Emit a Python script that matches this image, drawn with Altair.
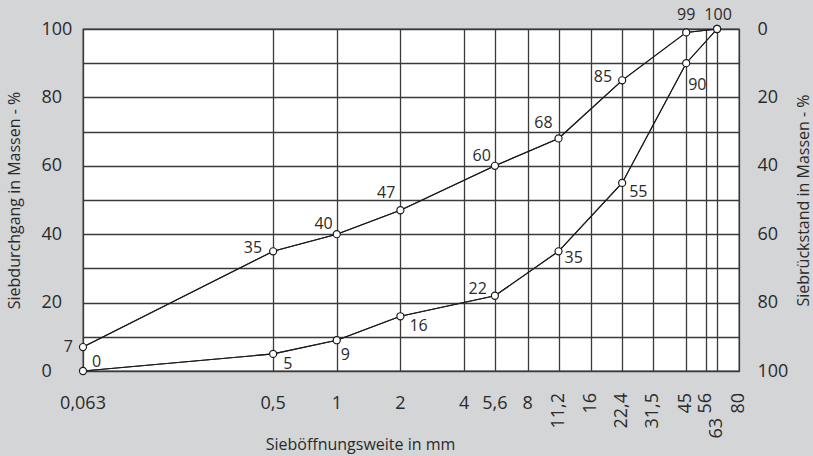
import altair as alt
import pandas as pd

# Sieve sizes (mm) that carry a point on the grading curves
sieves = [0.063, 0.5, 1, 2, 5.6, 11.2, 22.4, 45, 63]
# Passing percentages of the two limiting grading curves
upper = [7, 35, 40, 47, 60, 68, 85, 99, 100]
lower = [0, 5, 9, 16, 22, 35, 55, 90, 100]
series_names = ["oben", "unten"]

# Sieve series used for the vertical grid and the x labels
x_ticks = [0.063, 0.5, 1, 2, 4, 5.6, 8, 11.2, 16, 22.4, 31.5, 45, 56, 63, 80]
x_tick_labels = ["0,063", "0,5", "1", "2", "4", "5,6", "8", "11,2", "16",
                 "22,4", "31,5", "45", "56", "63", "80"]
y_ticks = list(range(0, 101, 10))

FONT = "Open Sans"
INK = "#2a2a2a"
GRID = "#3a3a3a"
BG = "#d4d5d7"

curves = pd.DataFrame({
    "sieb": sieves * 2,
    "wert": upper + lower,
    "linie": [series_names[0]] * len(sieves) + [series_names[1]] * len(sieves),
})
ticks = pd.DataFrame({"sieb": x_ticks, "text": x_tick_labels})

x_scale = alt.Scale(type="log", domain=[0.063, 80], nice=False)
y_scale = alt.Scale(domain=[0, 100], nice=False)

x_enc = alt.X("sieb:Q", scale=x_scale, axis=None)
y_enc = alt.Y("wert:Q", scale=y_scale, axis=None)
y_base = alt.YDatum(0, scale=y_scale, axis=None)

# Left axis with the grid and the x grid, Siebdurchgang
left = alt.Chart(curves).mark_line(color="#1c1c1c", strokeWidth=1.1).encode(
    x=alt.X("sieb:Q", scale=x_scale, axis=alt.Axis(
        values=x_ticks, grid=True, gridColor=GRID, gridWidth=1.3, gridOpacity=1,
        labels=False, ticks=False, tickSize=0, domain=False,
        title="Sieböffnungsweite in mm", titleFont=FONT, titleFontSize=16,
        titleFontWeight="normal", titleColor=INK,
        titleX=277, titleY=73, titleAlign="center", titleBaseline="middle")),
    y=alt.Y("wert:Q", scale=y_scale, axis=alt.Axis(
        orient="left", values=y_ticks, grid=True, gridColor=GRID, gridWidth=1.3,
        gridOpacity=1, ticks=False, tickSize=0, domain=False,
        labelExpr="datum.value % 20 == 0 ? datum.label : ''",
        labelAlign="left", labelBaseline="middle", labelPadding=42,
        labelFont=FONT, labelFontSize=18, labelColor=INK,
        title="Siebdurchgang in Massen - %", titleFont=FONT, titleFontSize=16,
        titleFontWeight="normal", titleColor=INK, titleAngle=270,
        titleX=-69, titleY=171, titleAlign="center", titleBaseline="middle")),
    detail="linie:N",
)

# Right axis, Siebrückstand = 100 - Siebdurchgang
right = alt.Chart(curves).mark_line(color="#1c1c1c", strokeWidth=1.1).encode(
    x=x_enc,
    y=alt.Y("wert:Q", scale=y_scale, axis=alt.Axis(
        orient="right", values=y_ticks, grid=False, ticks=False, tickSize=0,
        domain=False,
        labelExpr="datum.value % 20 == 0 ? format(100 - datum.value, 'd') : ''",
        labelAlign="left", labelBaseline="middle", labelPadding=18,
        labelFont=FONT, labelFontSize=18, labelColor=INK,
        title="Siebrückstand in Massen - %", titleFont=FONT, titleFontSize=16,
        titleFontWeight="normal", titleColor=INK, titleAngle=270,
        titleX=64, titleY=171, titleAlign="center", titleBaseline="middle")),
    detail="linie:N",
)

points = alt.Chart(curves).mark_circle(
    size=50, fill="white", stroke="#1c1c1c", strokeWidth=1.2, opacity=1
).encode(x=x_enc, y=y_enc)


def value_label(line, sieve, align, baseline, dx, dy):
    return alt.Chart(curves).transform_filter(
        (alt.datum.linie == line) & (alt.datum.sieb == sieve)
    ).mark_text(
        align=align, baseline=baseline, dx=dx, dy=dy,
        font=FONT, fontSize=16, color=INK
    ).encode(x=x_enc, y=y_enc, text="wert:Q")


o, u = series_names
labels = [
    value_label(o, 0.063, "right", "middle", -10, 0),
    value_label(o, 0.5, "right", "middle", -11, -3),
    value_label(o, 1, "right", "alphabetic", -4, -5),
    value_label(o, 2, "right", "alphabetic", -5, -12),
    value_label(o, 5.6, "right", "alphabetic", -4, -5),
    value_label(o, 11.2, "right", "alphabetic", -6, -10),
    value_label(o, 22.4, "right", "middle", -10, -3),
    value_label(o, 45, "center", "alphabetic", 0, -12),
    value_label(o, 63, "center", "alphabetic", 1, -9),
    value_label(u, 0.063, "left", "alphabetic", 9, -4),
    value_label(u, 0.5, "left", "alphabetic", 10, 15),
    value_label(u, 1, "left", "alphabetic", 4, 20),
    value_label(u, 2, "left", "alphabetic", 9, 15),
    value_label(u, 5.6, "right", "alphabetic", -8, -2),
    value_label(u, 11.2, "left", "alphabetic", 6, 12),
    value_label(u, 22.4, "left", "alphabetic", 7, 14),
    value_label(u, 45, "left", "alphabetic", 2, 27),
]

# Sieve size labels below the plot: small sizes horizontal, larger ones upright
tick_text = dict(font=FONT, fontSize=18, color=INK)
flat = alt.Chart(ticks.iloc[:7]).mark_text(
    align="center", baseline="middle", dy=33, **tick_text
).encode(x=x_enc, y=y_base, text="text:N")
upright = alt.Chart(ticks.iloc[7:].drop(index=13)).mark_text(
    align="right", baseline="middle", angle=270, dx=-22, **tick_text
).encode(x=x_enc, y=y_base, text="text:N")
upright_low = alt.Chart(ticks.loc[[13]]).mark_text(
    align="right", baseline="middle", angle=270, dx=-47, **tick_text
).encode(x=x_enc, y=y_base, text="text:N")

chart = alt.layer(
    left, right, points, *labels, flat, upright, upright_low
).resolve_axis(x="independent", y="independent").properties(
    width=656, height=342,
    autosize=alt.AutoSizeParams(type="none"),
    padding={"left": 83, "top": 29, "right": 74, "bottom": 85},
).configure(
    background=BG,
).configure_view(
    fill="white", stroke=GRID, strokeWidth=1.3,
)

chart.save("out.html", embed_options={"renderer": "svg", "actions": False})
